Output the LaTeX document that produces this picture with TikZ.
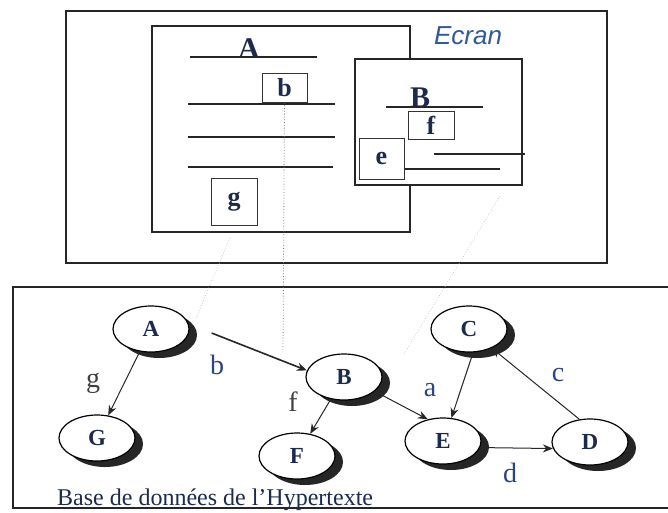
\documentclass[tikz,border=0pt]{standalone}
\usepackage{fontspec}
\setmainfont{Liberation Serif}
\setsansfont{Liberation Sans}
\usetikzlibrary{shapes.geometric,shadows,arrows.meta}
\definecolor{navy}{HTML}{1C2A4E}
\definecolor{lblue}{HTML}{2B4485}
\definecolor{ecranblue}{HTML}{2E5A9C}
\begin{document}
\begin{tikzpicture}[x=1pt,y=-1pt,
  frame/.style={draw=black!85, line width=2pt},
  win/.style={draw=black!85, line width=1.8pt, fill=white},
  txtline/.style={draw=black!85, line width=1.3pt},
  linkbox/.style={draw=black!80, line width=1pt, fill=white, inner sep=0pt,
    font=\fontsize{26}{26}\selectfont\bfseries, text=navy},
  gnode/.style={ellipse, draw=black, line width=1.2pt, fill=white,
    minimum width=76pt, minimum height=46pt, inner sep=0pt,
    font=\fontsize{23}{23}\selectfont\bfseries, text=navy,
    drop shadow={shadow xshift=8pt, shadow yshift=-6pt, fill=black!85, opacity=1}},
  conn/.style={draw=black!85, line width=1pt, -{Stealth[length=10pt,width=8pt]}},
  elab/.style={font=\fontsize{28}{28}\selectfont, text=lblue, inner sep=0pt},
  elabd/.style={font=\fontsize{28}{28}\selectfont, text=black!75, inner sep=0pt},
  guide/.style={dotted, line width=0.8pt, draw=black!55},
  faint/.style={dotted, line width=0.7pt, draw=black!25},
]
\useasboundingbox (0,0) rectangle (668,512);

% ---- Ecran ----
\draw[frame] (66,11) rectangle (607,263);
\node[font=\fontsize{26}{26}\selectfont\sffamily\itshape, text=ecranblue] (ecran) at (468,36) {Ecran};

% window A
\draw[win] (152,26) rectangle (410,232);
\node[anchor=base, font=\fontsize{30}{30}\selectfont\bfseries, text=navy, inner sep=0pt] (wa) at (249,58) {A};
\draw[txtline] (190,57) -- (317,57);
\draw[txtline] (188,104) -- (335,104);
\draw[txtline] (188,137) -- (335,137);
\draw[txtline] (188,167) -- (333,167);
\node[linkbox, minimum width=45pt, minimum height=29pt] (boxb) at (284.5,87.5) {b};
\node[linkbox, minimum width=46pt, minimum height=47pt] (boxg) at (234,201.5) {g};

% window B
\draw[win] (355,59) rectangle (522,185);
\node[anchor=base, font=\fontsize{30}{30}\selectfont\bfseries, text=navy, inner sep=0pt] (wb) at (420,107) {B};
\draw[txtline] (386,107) -- (483,107);
\draw[txtline] (434,154) -- (525,154);
\draw[txtline] (404,169) -- (500,169);
\node[linkbox, minimum width=46pt, minimum height=28pt] (boxf) at (431,125) {f};
\node[linkbox, minimum width=45pt, minimum height=41pt] (boxe) at (381.5,158.5) {e};

% ---- Base de données ----
\draw[line width=1.8pt, draw=black!85] (670,287) -- (13,287) -- (13,508) -- (670,508);
\node[anchor=base west, font=\fontsize{24}{24}\selectfont, text=navy, inner sep=0pt] (base) at (57,505) {Base de données de l’Hypertexte};

\node[gnode] (A) at (151,329) {A};
\node[gnode] (G) at (97,438) {G};
\node[gnode] (B) at (344,377) {B};
\node[gnode] (F) at (297,456) {F};
\node[gnode] (C) at (469,329) {C};
\node[gnode] (E) at (443,441) {E};
\node[gnode] (D) at (590,442) {D};

% guides
\coordinate (dotend) at (283,352);
\draw[guide] (boxb.south) -- (dotend);
\coordinate (fa1) at (230,238);
\coordinate (fa2) at (196,318);
\draw[faint] (fa1) -- (fa2);
\coordinate (fb1) at (500,196);
\coordinate (fb2) at (404,354);
\draw[faint] (fb1) -- (fb2);

% connectors
\draw[conn, line width=1.6pt] ([shift={(22,4)}]A.east) -- (B.170);
\draw[conn] (A) -- (G);
\draw[conn] (B) -- (F);
\draw[conn] (B.-25) -- (E.125);
\draw[conn] (C.-80) -- (E.70);
\draw[conn] (E.-10) -- (D.190);
\draw[conn] (D.115) -- (C.-40);

% labels
\node[elab] (lb) at (217,365) {b};
\node[elabd] (lg) at (93,383) {g};
\node[elabd] (lf) at (293,402) {f};
\node[elab] (la) at (430,390) {a};
\node[elab] (lc) at (558,375) {c};
\node[elab] (ld) at (510,473) {d};
\end{tikzpicture}
\end{document}
